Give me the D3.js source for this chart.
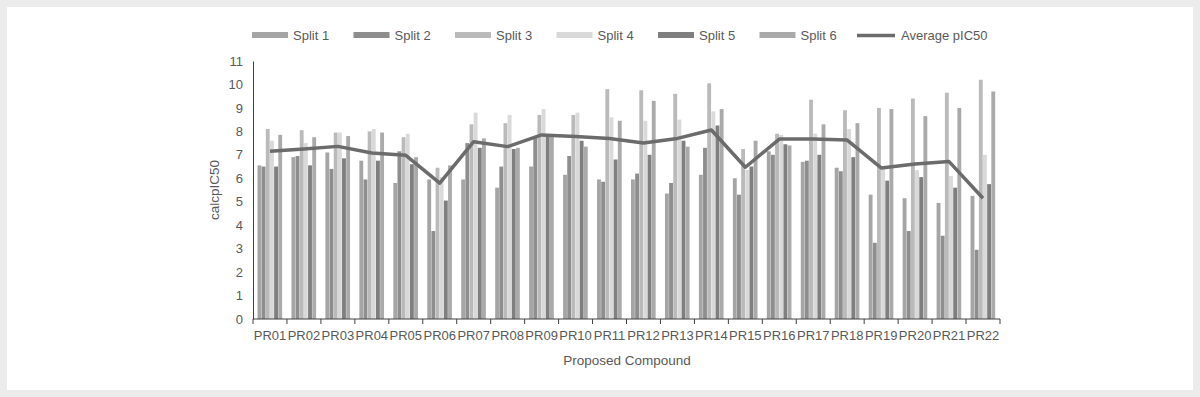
<!DOCTYPE html>
<html>
<head>
<meta charset="utf-8">
<script src="https://cdn.jsdelivr.net/npm/d3@7"></script>
<style>
  body { margin: 0; background: #ececec; }
  svg { display: block; }
  text { font-family: "Liberation Sans", "DejaVu Sans", sans-serif; fill: #595959; }
</style>
</head>
<body>
<div id="chart"></div>
<script>
// data
var categories = ["PR01","PR02","PR03","PR04","PR05","PR06","PR07","PR08","PR09","PR10","PR11",
                  "PR12","PR13","PR14","PR15","PR16","PR17","PR18","PR19","PR20","PR21","PR22"];
var seriesNames = ["Split 1","Split 2","Split 3","Split 4","Split 5","Split 6"];
var split1 = [6.55,6.9,7.1,6.75,5.8,5.95,5.95,5.6,6.5,6.15,5.95,5.95,5.35,6.15,6.0,7.15,6.7,6.45,5.3,5.15,4.95,5.25];
var split2 = [6.5,6.95,6.4,5.95,7.15,3.75,7.5,6.5,7.75,6.95,5.85,6.2,5.8,7.3,5.3,7.0,6.75,6.3,3.25,3.75,3.55,2.95];
var split3 = [8.1,8.05,7.95,8.0,7.75,6.45,8.3,8.35,8.7,8.7,9.8,9.75,9.6,10.05,7.25,7.9,9.35,8.9,9.0,9.4,9.65,10.2];
var split4 = [7.6,7.5,7.95,8.1,7.9,6.05,8.8,8.7,8.95,8.8,8.6,8.45,8.5,8.85,6.35,7.85,7.9,8.1,6.4,6.35,6.1,7.0];
var split5 = [6.5,6.55,6.85,6.75,6.6,5.05,7.3,7.25,7.8,7.6,6.8,7.0,7.6,8.25,6.5,7.45,7.0,6.9,5.9,6.05,5.6,5.75];
var split6 = [7.85,7.75,7.8,7.95,6.9,6.55,7.7,7.3,7.8,7.35,8.45,9.3,7.35,8.95,7.6,7.4,8.3,8.35,8.95,8.65,9.0,9.7];
var average = [7.15,7.25,7.36,7.08,6.98,5.79,7.56,7.35,7.85,7.78,7.7,7.5,7.7,8.06,6.47,7.67,7.67,7.63,6.44,6.61,6.71,5.15];
var yTicks = [0,1,2,3,4,5,6,7,8,9,10,11];
var colors = ["#a5a5a5","#8e8e8e","#bababa","#d9d9d9","#7f7f7f","#aaaaaa"];

var W = 1200, H = 397;
var svg = d3.select("#chart").append("svg").attr("width", W).attr("height", H);

svg.append("rect").attr("x", 7).attr("y", 7).attr("width", 1186).attr("height", 383).attr("fill", "#ffffff");

var plotLeft = 253, plotRight = 1000, plotTop = 61, plotBottom = 319;

var x0 = d3.scaleBand().domain(categories).range([plotLeft, plotRight]).padding(0);
var x1 = d3.scaleBand().domain(seriesNames).range([4.5, x0.bandwidth() - 4.5]).padding(0);
var y = d3.scaleLinear().domain([0, 11]).range([plotBottom, plotTop]);

var splits = [split1, split2, split3, split4, split5, split6];
var rows = [];
categories.forEach(function (c, i) {
    seriesNames.forEach(function (s, j) {
        rows.push({cat: c, series: s, idx: j, value: splits[j][i]});
    });
});

svg.append("g").selectAll("rect").data(rows).enter().append("rect")
    .attr("x", function (d) { return x0(d.cat) + x1(d.series); })
    .attr("y", function (d) { return y(d.value); })
    .attr("width", x1.bandwidth() - 0.3)
    .attr("height", function (d) { return plotBottom - y(d.value); })
    .attr("fill", function (d) { return colors[d.idx]; });

// average line
var line = d3.line()
    .x(function (d, i) { return x0(categories[i]) + x0.bandwidth() / 2; })
    .y(function (d) { return y(d); });
svg.append("path").datum(average)
    .attr("d", line)
    .attr("fill", "none")
    .attr("stroke", "#6b6b6b")
    .attr("stroke-width", 3.5)
    .attr("stroke-linejoin", "round");

// y axis
var yAxis = svg.append("g").attr("transform", "translate(" + plotLeft + ",0)")
    .call(d3.axisLeft(y).tickValues(yTicks).tickSize(0).tickPadding(10));
yAxis.select(".domain").attr("stroke", "#404040");
yAxis.selectAll("text").attr("font-size", 13).style("font-family", "Liberation Sans, sans-serif").attr("fill", "#595959");

// x axis
var xAxis = svg.append("g").attr("transform", "translate(0," + plotBottom + ")")
    .call(d3.axisBottom(x0).tickSize(0).tickPadding(12));
xAxis.select(".domain").attr("stroke", "#404040").attr("d", "M" + plotLeft + ",0H" + plotRight);
xAxis.selectAll("text").attr("font-size", 13).style("font-family", "Liberation Sans, sans-serif").attr("fill", "#595959");

var bounds = categories.map(function (c) { return x0(c); }).concat([plotRight]);
svg.append("g").selectAll("line").data(bounds).enter().append("line")
    .attr("x1", function (d) { return d; }).attr("x2", function (d) { return d; })
    .attr("y1", plotBottom).attr("y2", plotBottom + 5)
    .attr("stroke", "#404040");

// titles
svg.append("text").attr("transform", "translate(219,190) rotate(-90)")
    .attr("text-anchor", "middle").attr("font-size", 13.5).text("calcpIC50");
svg.append("text").attr("x", 627).attr("y", 365)
    .attr("text-anchor", "middle").attr("font-size", 13.5).text("Proposed Compound");

// legend
var legend = svg.append("g");
seriesNames.forEach(function (s, j) {
    var lx = 252 + j * 101.5;
    legend.append("rect").attr("x", lx).attr("y", 32).attr("width", 36).attr("height", 6).attr("fill", colors[j]);
    legend.append("text").attr("x", lx + 41).attr("y", 40).attr("font-size", 13).text(s);
});
legend.append("line").attr("x1", 857).attr("x2", 895).attr("y1", 35.5).attr("y2", 35.5)
    .attr("stroke", "#6b6b6b").attr("stroke-width", 3.5);
legend.append("text").attr("x", 901).attr("y", 40).attr("font-size", 13).text("Average pIC50");
</script>
</body>
</html>
